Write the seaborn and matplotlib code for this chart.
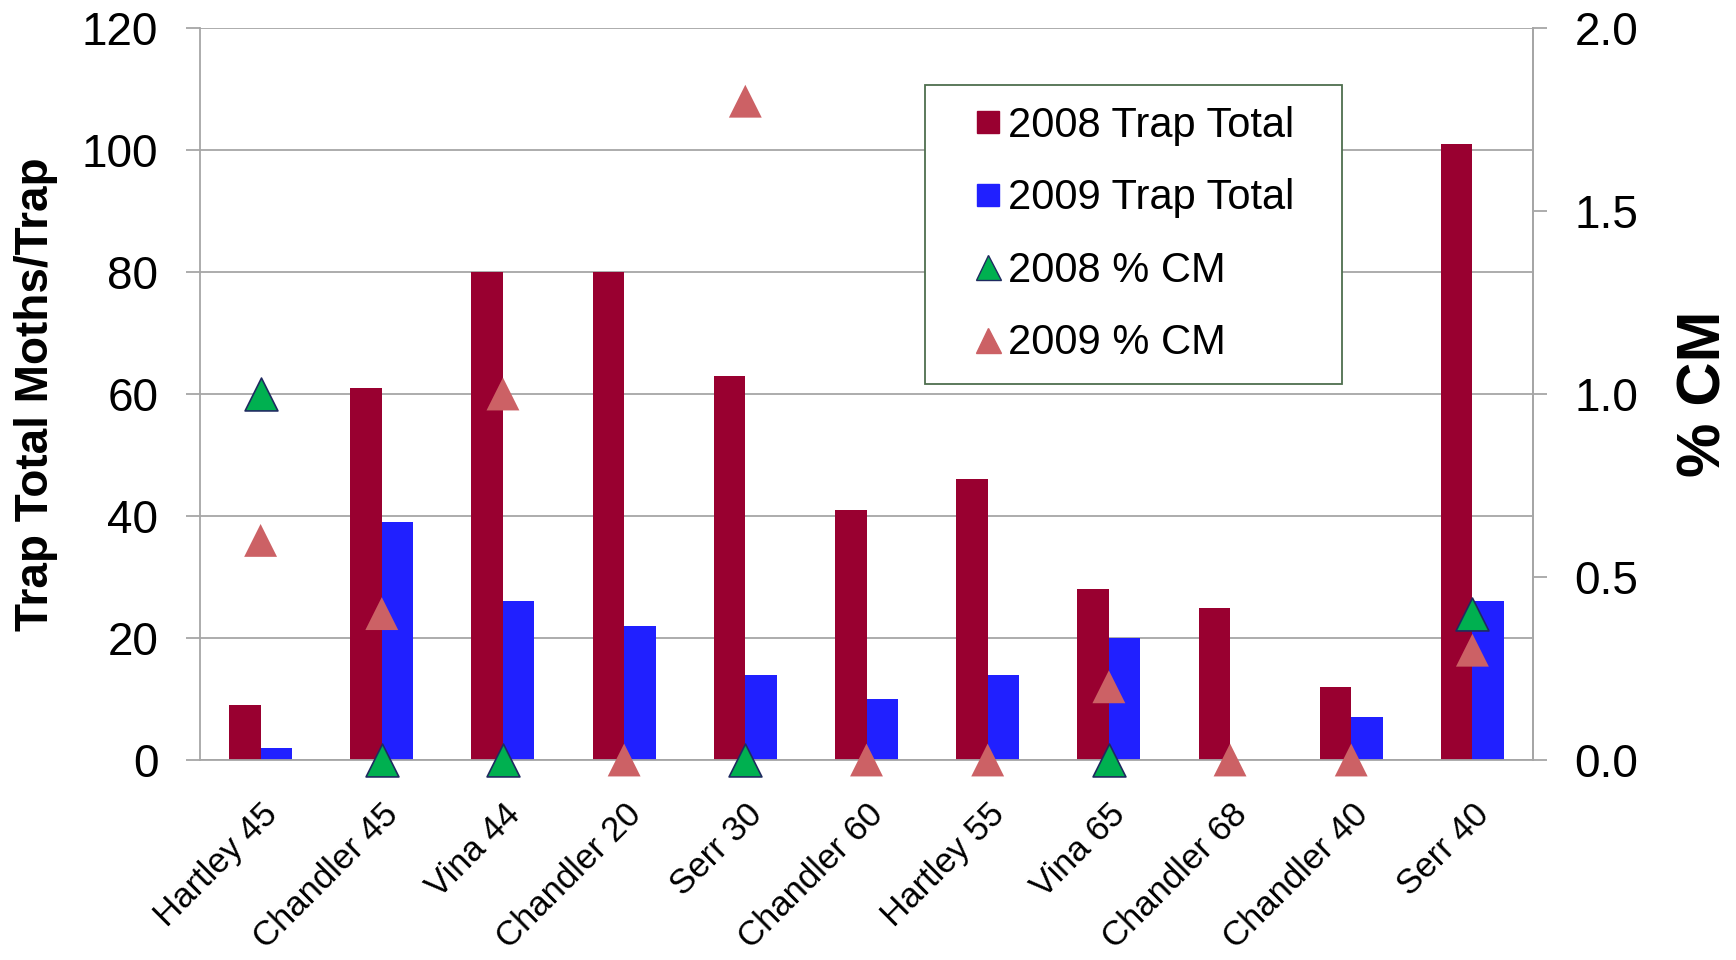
import numpy as np
import pandas as pd
import matplotlib
matplotlib.use("Agg")
import matplotlib.pyplot as plt
import matplotlib.transforms as mtrans
from matplotlib.lines import Line2D
import seaborn as sns

# donnees
sites = ["Hartley 45", "Chandler 45", "Vina 44", "Chandler 20", "Serr 30", "Chandler 60",
         "Hartley 55", "Vina 65", "Chandler 68", "Chandler 40", "Serr 40"]
total_2008 = [9, 61, 80, 80, 63, 41, 46, 28, 25, 12, 101]
total_2009 = [2, 39, 26, 22, 14, 10, 14, 20, 0, 7, 26]
cm_2008 = [1.0, 0.0, 0.0, np.nan, 0.0, np.nan, np.nan, 0.0, np.nan, np.nan, 0.4]
cm_2009 = [0.6, 0.4, 1.0, 0.0, 1.8, 0.0, 0.0, 0.2, 0.0, 0.0, 0.3]

rouge = "#990030"
bleu = "#2020FF"
vert = "#00B050"
saumon = "#CC6165"
gris = "#A6A6A6"

sns.set_style("white")
plt.rcParams["font.family"] = ["Liberation Sans", "DejaVu Sans"]
plt.rcParams["text.color"] = "black"
plt.rcParams["axes.labelcolor"] = "black"
plt.rcParams["xtick.labelcolor"] = "black"
plt.rcParams["ytick.labelcolor"] = "black"

df = pd.DataFrame({
    "site": sites * 2,
    "valeur": total_2008 + total_2009,
    "serie": ["2008 Trap Total"] * len(sites) + ["2009 Trap Total"] * len(sites),
})

fig = plt.figure(figsize=(17.36, 9.6), dpi=100)
ax = fig.add_axes([200 / 1736, 1 - 760 / 960, 1333 / 1736, 732 / 960])

sns.barplot(data=df, x="site", y="valeur", hue="serie", order=sites,
            hue_order=["2008 Trap Total", "2009 Trap Total"],
            palette=[rouge, bleu], width=0.52, linewidth=0, saturation=1,
            ax=ax, legend=False)

ax.set_xlim(-0.5, len(sites) - 0.5)
ax.set_ylim(0, 120)
ax.set_yticks(np.arange(0, 121, 20))
ax.yaxis.grid(True, color=gris, linewidth=1.3)
ax.set_axisbelow(True)
ax.set_xlabel("")
ax.set_ylabel("Trap Total Moths/Trap", fontsize=33, fontweight="bold")
ax.yaxis.set_label_coords(-0.1065, 0.5)

pos = np.arange(len(sites))
ax.set_xticks(pos)
ax.set_xticklabels(sites, rotation=45, ha="right", va="top", rotation_mode="anchor", fontsize=25)
decal = mtrans.ScaledTranslation(-10 / 100, 0, fig.dpi_scale_trans)
for lab in ax.get_xticklabels():
    lab.set_transform(lab.get_transform() + decal)
ax.set_xticks(np.arange(len(sites) + 1) - 0.5, minor=True)
ax.tick_params(axis="x", which="major", length=0, pad=27)
ax.tick_params(axis="x", which="minor", length=9, color=gris, width=1.3, direction="out")
ax.tick_params(axis="y", labelsize=33, length=10, color=gris, width=1.3, direction="out", pad=20)

ax.spines["top"].set_visible(False)
for s in ["left", "right", "bottom"]:
    ax.spines[s].set_color(gris)
    ax.spines[s].set_linewidth(1.3)

ax2 = ax.twinx()
sns.scatterplot(x=pos, y=cm_2008, marker="^", s=560, color=vert, edgecolor="#1F2A60",
                linewidth=1.2, ax=ax2, zorder=3, legend=False, clip_on=False)
sns.scatterplot(x=pos, y=cm_2009, marker="^", s=560, color=saumon, edgecolor="none",
                linewidth=0, ax=ax2, zorder=4, legend=False, clip_on=False)
ax2.set_ylim(0, 2.0)
ax2.set_yticks(np.arange(0, 2.01, 0.5))
ax2.set_yticklabels([f"{v:.1f}" for v in np.arange(0, 2.01, 0.5)])
ax2.set_xlim(-0.5, len(sites) - 0.5)
ax2.tick_params(axis="y", labelsize=33, length=10, color=gris, width=1.3, direction="out", pad=20)
ax2.set_ylabel("% CM", fontsize=44, fontweight="bold")
ax2.yaxis.set_label_coords(1.108, 0.5)
ax2.grid(False)
for s in ["top", "left", "bottom"]:
    ax2.spines[s].set_visible(False)
ax2.spines["right"].set_color(gris)
ax2.spines["right"].set_linewidth(1.3)

poignees = [
    Line2D([], [], linestyle="none", marker="s", markersize=16, color=rouge),
    Line2D([], [], linestyle="none", marker="s", markersize=16, color=bleu),
    Line2D([], [], linestyle="none", marker="^", markersize=18, color=vert,
           markeredgecolor="#1F2A60", markeredgewidth=1),
    Line2D([], [], linestyle="none", marker="^", markersize=18, color=saumon),
]
leg = ax2.legend(poignees, ["2008 Trap Total", "2009 Trap Total", "2008 % CM", "2009 % CM"],
                 loc="upper left", bbox_to_anchor=(0.544, 0.525, 0.313, 0.397), mode="expand",
                 borderaxespad=0, fontsize=30, frameon=True, fancybox=False,
                 borderpad=0.5, labelspacing=0.78, handlelength=2.0, handletextpad=-0.5)
leg.get_frame().set_edgecolor("#4E6E4E")
leg.get_frame().set_linewidth(1.3)
leg.get_frame().set_alpha(1)

fig.savefig("out.png", dpi=100)
